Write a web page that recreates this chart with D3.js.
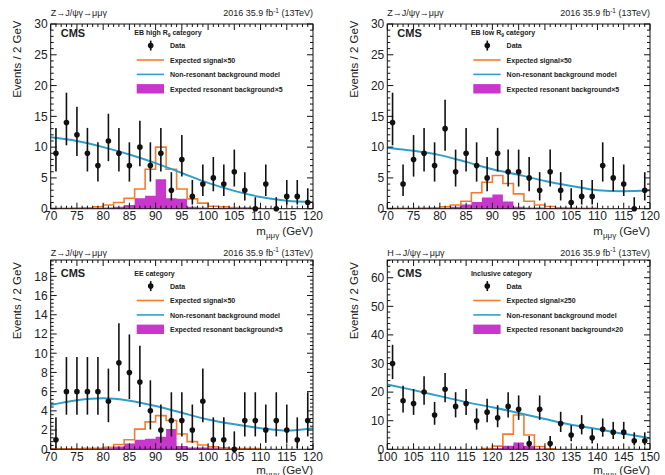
<!DOCTYPE html>
<html>
<head>
<meta charset="utf-8">
<script src="https://cdn.jsdelivr.net/npm/d3@7"></script>
<style>
body { margin: 0; background: #fff; }
svg text { font-family: "Liberation Sans", Arial, sans-serif; fill: #222; }
</style>
</head>
<body>
<svg id="chart" width="665" height="475"></svg>
<script>
// bin centres of the data points (2 GeV bins)
var zCentres = [71,73,75,77,79,81,83,85,87,89,91,93,95,97,99,101,103,105,107,109,111,113,115,117,119];
var hCentres = [101,103,105,107,109,111,113,115,117,119,121,123,125,127,129,131,133,135,137,139,141,143,145,147,149];
// bin edges of the expected histograms
var zEdges = [70,72,74,76,78,80,82,84,86,88,90,92,94,96,98,100,102,104,106,108,110,112,114,116,118,120];
var hEdges = [118,120,122,124,126,128,130,132];
var zModelMass = [70,75,80,85,90,95,100,105,110,115,120];
var hModelMass = [100,105,110,115,120,125,130,135,140,145,150];

// tick labels
var zTicks = [70,75,80,85,90,95,100,105,110,115,120];
var hTicks = [100,105,110,115,120,125,130,135,140,145,150];
var ebYTicks = [0,5,10,15,20,25,30];
var eeYTicks = [0,2,4,6,8,10,12,14,16,18];
var inclYTicks = [0,10,20,30,40,50,60];

// EB high R9 category
var ebHighData   = [9,14,12,9,7,11,9,7,10,7,9,3,8,2,4,5,4,6,3,0,4,0,2,2,1];
var ebHighSignal = [0.05,0.05,0.1,0.15,0.3,0.6,1.0,1.7,3.2,6.4,10.0,6.4,3.2,1.6,0.9,0.4,0.3,0.2,0.15,0.1,0,0,0,0,0];
var ebHighReso   = [0.1,0.1,0.1,0.1,0.1,0.2,0.3,0.6,1.7,2.1,4.8,1.7,1.6,0.3,0.2,0.1,0.1,0.1,0.1,0.1,0,0,0,0,0];
var ebHighModel  = [11.6,11.0,10.0,8.8,7.4,5.8,4.2,2.9,1.9,1.3,1.1];

// EB low R9 category
var ebLowData   = [14,4,8,9,7,13,6,9,7,5,9,6,6,5,3,6,3,1,2,2,7,5,4,0,3];
var ebLowSignal = [0.05,0.05,0.05,0.1,0.15,0.3,0.6,1.2,2.6,4.3,5.4,4.1,2.4,1.2,0.6,0.35,0.15,0.1,0.05,0.05,0,0,0,0,0];
var ebLowReso   = [0.1,0.1,0.1,0.1,0.1,0.1,0.3,0.7,1.1,1.8,2.3,1.15,0.3,0.2,0.2,0.1,0.1,0.1,0.1,0.1,0,0,0,0,0];
var ebLowModel  = [9.9,9.4,8.7,7.6,6.4,5.5,4.5,3.7,3.0,2.85,3.0];

// EE category
var eeData   = [1,6,6,6,6,5,9,8,7,4,2,3,3,2,5,1,1,0,3,3,2,3,2,1,3];
var eeSignal = [0.05,0.05,0.05,0.1,0.1,0.2,0.5,1.0,2.1,2.85,3.5,3.0,1.6,0.8,0.45,0.25,0.15,0.08,0.08,0.08,0,0,0,0,0];
var eeReso   = [0.1,0.1,0.1,0.1,0.1,0.1,0.3,0.6,1.0,1.1,1.3,2.1,0.35,0.2,0.2,0.1,0.1,0.1,0.1,0.1,0,0,0,0,0];
var eeModel  = [4.6,5.1,5.3,5.05,4.5,3.8,3.1,2.6,2.2,1.95,2.2];

// Inclusive H category
var inclData   = [30,17,16,20,12,21,15,16,10,13,11,15,14,2,14,2,9,5,8,4,7,6,6,3,3];
var inclSignal = [0.25,1.1,5.3,12.0,5.0,1.0,0.2];
var inclReso   = [0.1,0.4,1.2,2.35,1.2,0.3,0.1];
var inclModel  = [22.7,20.7,18.6,16.5,14.7,12.7,10.6,8.6,7.1,5.4,3.9];

var orange = "#f47b2f", blue = "#2f9fca", magenta = "#c836cc";

var svg = d3.select("#chart");

var panels = [
  {left:50.7, top:24, right:313, bottom:208.7, row:0, xDomain:[70,120], xTicks:zTicks, yMax:30, yTicks:ebYTicks, yMinor:1,
   centres:zCentres, data:ebHighData, edges:zEdges, signal:ebHighSignal, reso:ebHighReso, modelX:zModelMass, modelY:ebHighModel,
   process:"Z→J/ψγ→μμγ", cat:["EB high R","9"," category"], sig:"50", res:"5"},
  {left:387.3, top:24, right:650, bottom:208.7, row:0, xDomain:[70,120], xTicks:zTicks, yMax:30, yTicks:ebYTicks, yMinor:1,
   centres:zCentres, data:ebLowData, edges:zEdges, signal:ebLowSignal, reso:ebLowReso, modelX:zModelMass, modelY:ebLowModel,
   process:"Z→J/ψγ→μμγ", cat:["EB low R","9"," category"], sig:"50", res:"5"},
  {left:50.7, top:260, right:313, bottom:449.3, row:1, xDomain:[70,120], xTicks:zTicks, yMax:19.7, yTicks:eeYTicks, yMinor:0.4,
   centres:zCentres, data:eeData, edges:zEdges, signal:eeSignal, reso:eeReso, modelX:zModelMass, modelY:eeModel,
   process:"Z→J/ψγ→μμγ", cat:["EE category","",""], sig:"50", res:"5"},
  {left:387.3, top:260, right:650, bottom:449.3, row:1, xDomain:[100,150], xTicks:hTicks, yMax:66.2, yTicks:inclYTicks, yMinor:2,
   centres:hCentres, data:inclData, edges:hEdges, signal:inclSignal, reso:inclReso, modelX:hModelMass, modelY:inclModel,
   process:"H→J/ψγ→μμγ", cat:["Inclusive category","",""], sig:"250", res:"20"}
];

// 68% Poisson interval for a count
function poissonInterval(n) {
  var lo = n > 0 ? n - Math.sqrt(n - 0.25) : 0;
  var hi = n + Math.sqrt(n + 0.75) + 1;
  return [lo, hi];
}

function lastNonZero(vals) {
  var k = vals.length - 1;
  while (k > 0 && vals[k] === 0) k--;
  return k;
}

panels.forEach(function(p, idx) {
  var x = d3.scaleLinear().domain(p.xDomain).range([p.left, p.right]);
  var y = d3.scaleLinear().domain([0, p.yMax]).range([p.bottom, p.top]);
  var shift = p.row === 0 ? 0 : 4.5;

  var g = svg.append("g");
  var clipId = "clip" + idx;
  svg.append("clipPath").attr("id", clipId).append("rect")
    .attr("x", p.left).attr("y", p.top)
    .attr("width", p.right - p.left).attr("height", p.bottom - p.top);
  var plot = g.append("g").attr("clip-path", "url(#" + clipId + ")");

  // expected resonant background, filled
  var nR = lastNonZero(p.reso);
  var resoPts = p.reso.slice(0, nR + 1).map(function(v, i) { return [p.edges[i], v]; });
  resoPts.push([p.edges[nR + 1], p.reso[nR]]);
  plot.append("path")
    .attr("d", d3.area().curve(d3.curveStepAfter)
      .x(function(d) { return x(d[0]); })
      .y0(y(0)).y1(function(d) { return y(d[1]); })(resoPts))
    .attr("fill", magenta);

  // expected signal, outline
  var nS = lastNonZero(p.signal);
  var sigPts = [[p.edges[0], 0]];
  p.signal.slice(0, nS + 1).forEach(function(v, i) { sigPts.push([p.edges[i], v]); });
  sigPts.push([p.edges[nS + 1], p.signal[nS]]);
  sigPts.push([p.edges[nS + 1], 0]);
  plot.append("path")
    .attr("d", d3.line().curve(d3.curveStepAfter)
      .x(function(d) { return x(d[0]); })
      .y(function(d) { return y(d[1]); })(sigPts))
    .attr("fill", "none").attr("stroke", orange).attr("stroke-width", 1.6);

  // non-resonant background model
  plot.append("path")
    .attr("d", d3.line().curve(d3.curveMonotoneX)
      .x(function(d, i) { return x(p.modelX[i]); })
      .y(function(d) { return y(d); })(p.modelY))
    .attr("fill", "none").attr("stroke", blue).attr("stroke-width", 2);

  // data with error bars
  var pts = g.append("g");
  p.data.forEach(function(n, i) {
    var iv = poissonInterval(n);
    pts.append("line")
      .attr("x1", x(p.centres[i])).attr("x2", x(p.centres[i]))
      .attr("y1", y(iv[0])).attr("y2", Math.max(p.top, y(iv[1])))
      .attr("stroke", "#111").attr("stroke-width", 1.6);
    pts.append("circle")
      .attr("cx", x(p.centres[i])).attr("cy", y(n)).attr("r", 2.8)
      .attr("fill", "#111");
  });

  // frame
  g.append("rect")
    .attr("x", p.left).attr("y", p.top)
    .attr("width", p.right - p.left).attr("height", p.bottom - p.top)
    .attr("fill", "none").attr("stroke", "#111").attr("stroke-width", 1);

  // ticks on all four sides, pointing inward
  var ticks = g.append("g").attr("stroke", "#111").attr("stroke-width", 1);
  var xMinor = d3.range(p.xDomain[0], p.xDomain[1] + 0.01, 1);
  xMinor.forEach(function(v) {
    var len = p.xTicks.indexOf(v) >= 0 ? 6 : 3;
    ticks.append("line").attr("x1", x(v)).attr("x2", x(v)).attr("y1", p.bottom).attr("y2", p.bottom - len);
    ticks.append("line").attr("x1", x(v)).attr("x2", x(v)).attr("y1", p.top).attr("y2", p.top + len);
  });
  var yMinor = d3.range(0, p.yMax + 0.001, p.yMinor);
  yMinor.forEach(function(v) {
    var major = p.yTicks.some(function(t) { return Math.abs(t - v) < 1e-6; });
    var len = major ? 6 : 3;
    ticks.append("line").attr("x1", p.left).attr("x2", p.left + len).attr("y1", y(v)).attr("y2", y(v));
    ticks.append("line").attr("x1", p.right).attr("x2", p.right - len).attr("y1", y(v)).attr("y2", y(v));
  });

  // tick labels
  p.xTicks.forEach(function(v) {
    g.append("text").attr("x", x(v)).attr("y", p.bottom + 11.5)
      .attr("text-anchor", "middle").attr("font-size", 12).text(v);
  });
  p.yTicks.forEach(function(v) {
    g.append("text").attr("x", p.left - 3).attr("y", y(v) + 4.3)
      .attr("text-anchor", "end").attr("font-size", 12).text(v);
  });

  // axis titles
  g.append("text")
    .attr("transform", "translate(" + (p.left - 29.5) + "," + (p.row === 0 ? 20.5 : 262) + ") rotate(-90)")
    .attr("text-anchor", "end").attr("font-size", 11.5).text("Events / 2 GeV");
  var xt = g.append("text").attr("x", p.right).attr("y", p.row === 0 ? 235 : 474)
    .attr("text-anchor", "end").attr("font-size", 11.5);
  xt.append("tspan").text("m");
  xt.append("tspan").attr("font-size", 8).attr("dy", 3).text("μμγ");
  xt.append("tspan").attr("dy", -3).text(" (GeV)");

  // header above the frame
  var headY = p.row === 0 ? 16 : 255.5;
  g.append("text").attr("x", p.left).attr("y", headY).attr("font-size", 9).text(p.process);
  var lumi = g.append("text").attr("x", p.right).attr("y", headY).attr("text-anchor", "end").attr("font-size", 9);
  lumi.append("tspan").text("2016 35.9 fb");
  lumi.append("tspan").attr("font-size", 6.5).attr("dy", -3.5).text("-1");
  lumi.append("tspan").attr("dy", 3.5).text(" (13TeV)");

  // CMS label
  g.append("text").attr("x", p.left + 10).attr("y", p.top + 12.7 + shift)
    .attr("font-size", 11).attr("font-weight", "bold").text("CMS");

  // legend
  var lx = p.left + 83.6;
  var hdr = g.append("text").attr("x", lx).attr("y", p.top + 11 + shift)
    .attr("font-size", 7).attr("font-weight", "bold");
  hdr.append("tspan").text(p.cat[0]);
  if (p.cat[1]) {
    hdr.append("tspan").attr("font-size", 5).attr("dy", 2).text(p.cat[1]);
    hdr.append("tspan").attr("dy", -2).text(p.cat[2]);
  }
  var labels = ["Data", "Expected signal×" + p.sig, "Non-resonant background model", "Expected resonant background×" + p.res];
  labels.forEach(function(lab, i) {
    var base = p.top + 24.3 + i * 14.4 + shift;
    var cy = base - 2.7;
    g.append("text").attr("x", p.left + 119.3).attr("y", base)
      .attr("font-size", 7).attr("font-weight", "bold").text(lab);
    if (i === 0) {
      g.append("line").attr("x1", p.left + 100).attr("x2", p.left + 100)
        .attr("y1", cy - 5).attr("y2", cy + 5).attr("stroke", "#111").attr("stroke-width", 1.6);
      g.append("circle").attr("cx", p.left + 100).attr("cy", cy).attr("r", 2.8).attr("fill", "#111");
    } else if (i === 3) {
      g.append("rect").attr("x", p.left + 86).attr("y", cy - 4.7)
        .attr("width", 27.3).attr("height", 9.4).attr("fill", magenta);
    } else {
      g.append("line").attr("x1", p.left + 86).attr("x2", p.left + 113.3)
        .attr("y1", cy).attr("y2", cy)
        .attr("stroke", i === 1 ? orange : blue).attr("stroke-width", 1.6);
    }
  });
});
</script>
</body>
</html>
